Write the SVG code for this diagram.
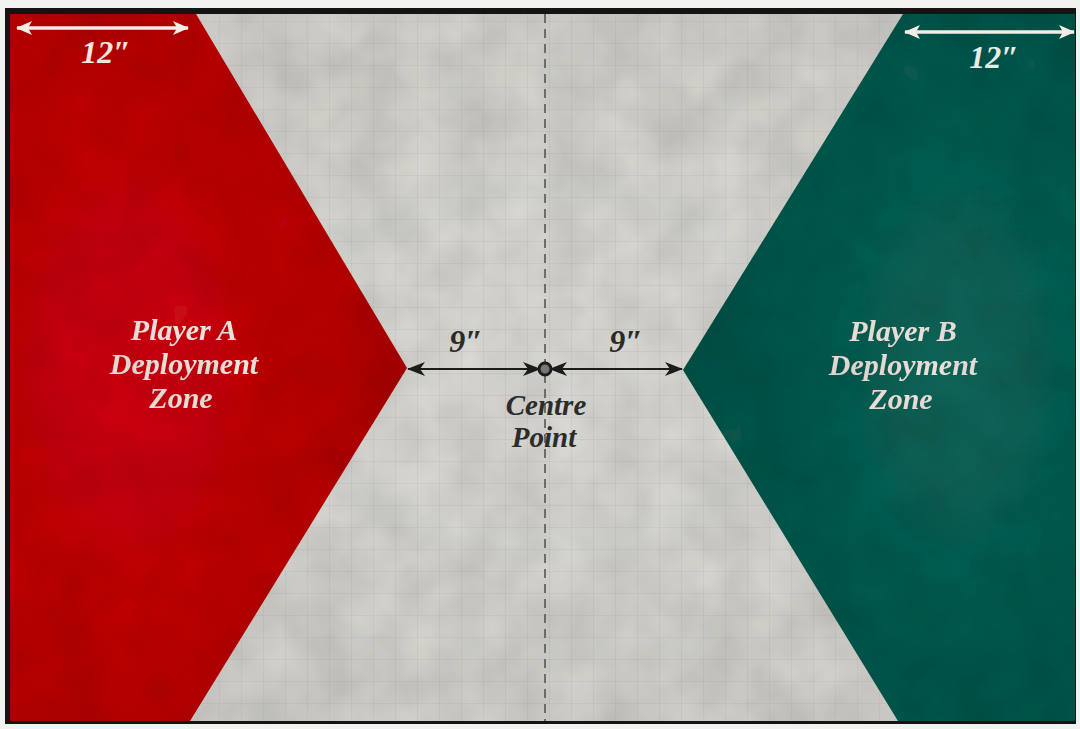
<svg xmlns="http://www.w3.org/2000/svg" width="1080" height="729" viewBox="0 0 1080 729">
  <defs>
    <pattern id="grid" x="0" y="0" width="22" height="22" patternUnits="userSpaceOnUse">
      <path d="M22 0 V22 M0 22 H22" fill="none" stroke="#a9a8a2" stroke-width="0.8" opacity="0.5"/>
    </pattern>
    <radialGradient id="paper" cx="0.5" cy="0.5" r="0.7">
      <stop offset="0" stop-color="#dcdbd6"/>
      <stop offset="1" stop-color="#cbcac4"/>
    </radialGradient>
    <radialGradient id="redg" cx="0.3" cy="0.5" r="0.8">
      <stop offset="0" stop-color="#cf0a14"/>
      <stop offset="1" stop-color="#a8000c"/>
    </radialGradient>
    <radialGradient id="greeng" cx="0.7" cy="0.5" r="0.8">
      <stop offset="0" stop-color="#14675a"/>
      <stop offset="1" stop-color="#0b4d43"/>
    </radialGradient>
    <filter id="tex" x="0" y="0" width="100%" height="100%">
      <feTurbulence type="fractalNoise" baseFrequency="0.02" numOctaves="3" seed="4" result="n"/>
      <feColorMatrix in="n" type="matrix" values="0 0 0 0 0  0 0 0 0 0  0 0 0 0 0  0 0 0 0.3 -0.05" result="a"/>
      <feComposite in="a" in2="SourceGraphic" operator="in" result="d"/>
      <feMerge><feMergeNode in="SourceGraphic"/><feMergeNode in="d"/></feMerge>
    </filter>
    <marker id="wh" viewBox="0 0 16 14" refX="15" refY="7" markerWidth="16" markerHeight="14" markerUnits="userSpaceOnUse" orient="auto-start-reverse">
      <path d="M0 0 L16 7 L0 14 L4 7 Z" fill="#f4ece6"/>
    </marker>
    <marker id="bk" viewBox="0 0 18 14" refX="17" refY="7" markerWidth="18" markerHeight="14" markerUnits="userSpaceOnUse" orient="auto-start-reverse">
      <path d="M0 0 L18 7 L0 14 L5 7 Z" fill="#1c1c1c"/>
    </marker>
    <style>
      .zone { font-family: "Liberation Serif", serif; font-style: italic; font-weight: bold; font-size: 30px; text-anchor: middle; fill: #f1e6e0; }
      .dim { font-family: "Liberation Serif", serif; font-style: italic; font-weight: bold; font-size: 32px; text-anchor: middle; }
      .cp { font-family: "Liberation Serif", serif; font-style: italic; font-weight: bold; font-size: 29px; text-anchor: middle; fill: #2c2c2c; }
    </style>
  </defs>

  <rect width="1080" height="729" fill="#f2f2f0"/>
  <rect x="5" y="8" width="1071" height="716" fill="#141414"/>

  <g id="board" filter="url(#tex)">
    <rect x="10" y="14" width="1065" height="707" fill="url(#paper)"/>
    <rect x="10" y="14" width="1065" height="707" fill="url(#grid)"/>
  </g>
  <line id="centre-line" x1="545" y1="14" x2="545" y2="721" stroke="#555" stroke-width="1.6" stroke-dasharray="9 6"/>

  <g id="zone-a" filter="url(#tex)">
    <polygon points="10,14 196,14 407,368 190,721 10,721" fill="url(#redg)"/>
    <text class="zone" x="184" y="340">Player A</text>
    <text class="zone" x="184" y="374">Deployment</text>
    <text class="zone" x="181" y="408">Zone</text>
  </g>

  <g id="zone-b" filter="url(#tex)">
    <polygon points="903,14 1075,14 1075,721 898,721 683,370" fill="url(#greeng)"/>
    <text class="zone" x="903" y="341">Player B</text>
    <text class="zone" x="903" y="375">Deployment</text>
    <text class="zone" x="901" y="409">Zone</text>
  </g>

  <g id="connectors">
    <line x1="17" y1="28" x2="188" y2="28" stroke="#f4ece6" stroke-width="3.5" marker-start="url(#wh)" marker-end="url(#wh)"/>
    <line x1="905" y1="32" x2="1074" y2="32" stroke="#f4ece6" stroke-width="3.5" marker-start="url(#wh)" marker-end="url(#wh)"/>
    <line x1="408" y1="369" x2="540" y2="369" stroke="#1c1c1c" stroke-width="2" marker-start="url(#bk)" marker-end="url(#bk)"/>
    <line x1="550" y1="369" x2="682" y2="369" stroke="#1c1c1c" stroke-width="2" marker-start="url(#bk)" marker-end="url(#bk)"/>
  </g>

  <g id="centre-point">
    <circle cx="545" cy="369" r="6" fill="#777" stroke="#1c1c1c" stroke-width="3"/>
    <text class="cp" x="546" y="415">Centre</text>
    <text class="cp" x="544" y="447">Point</text>
  </g>

  <g id="labels">
    <text class="dim" x="106" y="63" fill="#f1e6e0">12″</text>
    <text class="dim" x="994" y="68" fill="#e6ece8">12″</text>
    <text class="dim" x="466" y="352" fill="#2a2a2a">9″</text>
    <text class="dim" x="626" y="352" fill="#2a2a2a">9″</text>
  </g>
</svg>
